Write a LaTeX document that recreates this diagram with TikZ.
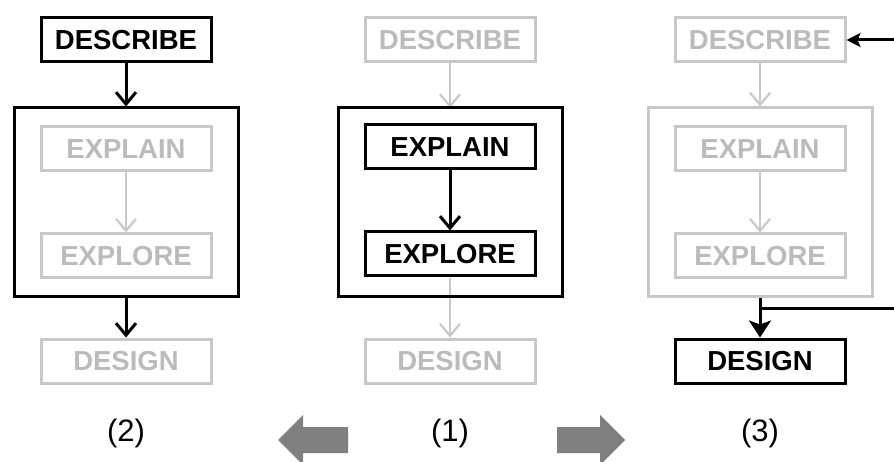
\documentclass[tikz,border=0pt]{standalone}
\usepackage{fontspec}
\setmainfont{Liberation Sans}
\usetikzlibrary{calc,positioning,arrows.meta}
\definecolor{color_faded}{HTML}{C8C8C8}
\definecolor{color_faded_text}{HTML}{BBBBBB}
\definecolor{color_block_arrow}{HTML}{808080}

\begin{document}
\begin{tikzpicture}[x=1pt,y=1pt,
		stage/.style={draw,line width=3pt,minimum width=170pt,minimum height=44pt,inner sep=0pt,font=\fontsize{27.5}{27.5}\selectfont\bfseries},
		faded/.style={draw=color_faded,text=color_faded_text},
		loopbox/.style={draw,line width=3pt,minimum width=224pt,minimum height=188pt,inner sep=0pt},
		flow/.style={line width=3pt,-{Straight Barb[length=12pt,width=20pt,line width=3pt]}},
		fadedflow/.style={color_faded,line width=2.2pt,-{Straight Barb[length=12pt,width=20pt]}},
		boldflow/.style={line width=3pt,-{Stealth[length=17pt,width=22pt,inset=4pt]}},
		backflow/.style={line width=3pt,-{Stealth[length=14pt,width=14pt,inset=3pt]}},
		caption/.style={font=\fontsize{31}{31}\selectfont}]
				\useasboundingbox (0, 0) rectangle (894, 461);
				% Panel centres
				\coordinate (PB) at (126, 0);
				\coordinate (PA) at (450, 0);
				\coordinate (PC) at (760, 0);
				\coordinate (edgeHigh) at (900, 421);
				\coordinate (edgeLow) at (900, 153);

				% (2): describe first
				\node[loopbox] (loopB) at ($(PB)+(0,259)$) {};
				\node[stage] (descB) at ($(PB)+(0,421)$) {DESCRIBE};
				\node[stage,faded] (explB) at ($(PB)+(0,312)$) {EXPLAIN};
				\node[stage,faded] (explrB) at ($(PB)+(0,205)$) {EXPLORE};
				\node[stage,faded] (desgB) at ($(PB)+(0,100)$) {DESIGN};
				\draw[fadedflow] (explB) -- (explrB);
				\draw[flow] (descB) -- (loopB);
				\draw[flow] (loopB) -- (desgB);
				\node[caption] (capB) at ($(PB)+(0,28)$) {(2)};

				% (1): explain and explore
				\node[stage,faded] (descA) at ($(PA)+(0,421)$) {DESCRIBE};
				\node[stage,faded] (desgA) at ($(PA)+(0,100)$) {DESIGN};
				\draw[fadedflow] (descA) -- ($(PA)+(0,353)$);
				\draw[fadedflow] ($(PA)+(0,183)$) -- (desgA);
				\node[loopbox] (loopA) at ($(PA)+(0,259)$) {};
				\node[stage] (explA) at ($(PA)+(0,314)$) {EXPLAIN};
				\node[stage] (explrA) at ($(PA)+(0,207)$) {EXPLORE};
				\draw[flow] (explA) -- (explrA);
				\node[caption] (capA) at ($(PA)+(0,28)$) {(1)};

				% (3): design, then back to describe
				\node[loopbox,draw=color_faded] (loopC) at ($(PC)+(0,259)$) {};
				\node[stage,faded] (descC) at ($(PC)+(0,421)$) {DESCRIBE};
				\node[stage,faded] (explC) at ($(PC)+(0,312)$) {EXPLAIN};
				\node[stage,faded] (explrC) at ($(PC)+(0,205)$) {EXPLORE};
				\node[stage] (desgC) at ($(PC)+(0,100)$) {DESIGN};
				\draw[fadedflow] (descC) -- (loopC);
				\draw[fadedflow] (explC) -- (explrC);
				\draw[boldflow] (loopC) -- (desgC);
				\draw[line width=3pt] ($(loopC.south |- edgeLow)+(-1.5,0)$) -- (edgeLow);
				\draw[backflow] (edgeHigh) -- (descC);
				\node[caption] (capC) at ($(PC)+(0,28)$) {(3)};

				% Block arrows
				\fill[color_block_arrow]
					(278, 21) -- (303, 46) -- (303, 34) -- (348, 34) --
					(348, 8) -- (303, 8) -- (303, -4) -- cycle
					;
				\fill[color_block_arrow]
					(625, 21) -- (600, 46) -- (600, 34) -- (557, 34) --
					(557, 8) -- (600, 8) -- (600, -4) -- cycle
					;
			\end{tikzpicture}
\end{document}
